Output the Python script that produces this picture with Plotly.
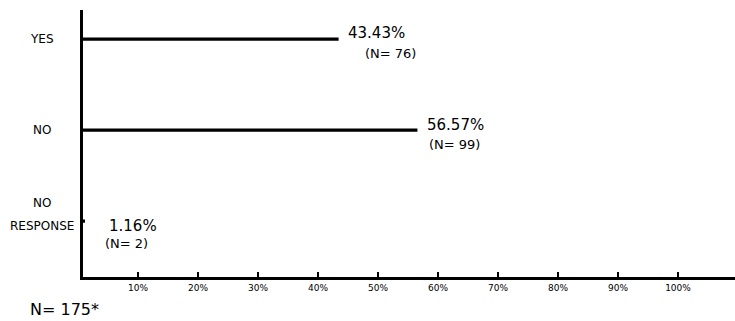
import plotly.graph_objects as go

answers = ["YES", "NO", "NO RESPONSE"]
percents = [43.43, 56.57, 1.16]
counts = [76, 99, 2]
total_n = 175
tick_vals = [10, 20, 30, 40, 50, 60, 70, 80, 90, 100]
tick_text = [f"{v}%" for v in tick_vals]

fig = go.Figure(go.Bar(
    x=percents, y=answers, orientation="h",
    marker=dict(color="black", line=dict(width=0)),
    width=0.035,
))

# value labels to the right of each line: (pct xshift, pct yshift, N xshift, N yshift)
shifts = {"YES": (7, 6, 24, -14), "NO": (8, 5, 10, -14), "NO RESPONSE": (22, -5, 18, -22)}
for a, p, n in zip(answers, percents, counts):
    px, py, nx, ny = shifts[a]
    fig.add_annotation(x=p, y=a, text=f"{p:.2f}%", showarrow=False, xanchor="left",
                       xshift=px, yshift=py, font=dict(size=15))
    fig.add_annotation(x=p, y=a, text=f"(N= {n})", showarrow=False, xanchor="left",
                       xshift=nx, yshift=ny, font=dict(size=13))

# category labels on the left, hand-placed lines
label_lines = {"YES": [("YES", 0)], "NO": [("NO", 0)],
               "NO RESPONSE": [("NO", 18), ("RESPONSE", -5)]}
for a in answers:
    for txt, dy in label_lines[a]:
        fig.add_annotation(x=-41 / 652, xref="paper", y=a, text=txt, showarrow=False,
                           xanchor="center", yshift=dy, font=dict(size=12))

fig.add_annotation(x=-55 / 652, xref="paper", y=0, yref="paper", yanchor="middle",
                   yshift=-32, text=f"N= {total_n}*", showarrow=False,
                   xanchor="left", font=dict(size=16))

fig.update_layout(
    width=735, height=321,
    margin=dict(l=83, r=0, t=10, b=44),
    plot_bgcolor="white", paper_bgcolor="white",
    font=dict(family="DejaVu Sans", color="black"),
    showlegend=False,
    xaxis=dict(range=[0.83, 109.5], tickvals=tick_vals, ticktext=tick_text,
               ticks="inside", ticklen=5, tickwidth=2, tickcolor="black",
               showline=True, linecolor="black", linewidth=3,
               showgrid=False, zeroline=False, tickfont=dict(size=9)),
    yaxis=dict(categoryorder="array", categoryarray=answers[::-1],
               range=[-0.615, 2.32], showticklabels=False,
               showline=True, linecolor="black", linewidth=3,
               showgrid=False, zeroline=False, ticks=""),
)

fig.write_html("out.html", config={"displayModeBar": False},
               post_script="document.body.style.margin='0';")
